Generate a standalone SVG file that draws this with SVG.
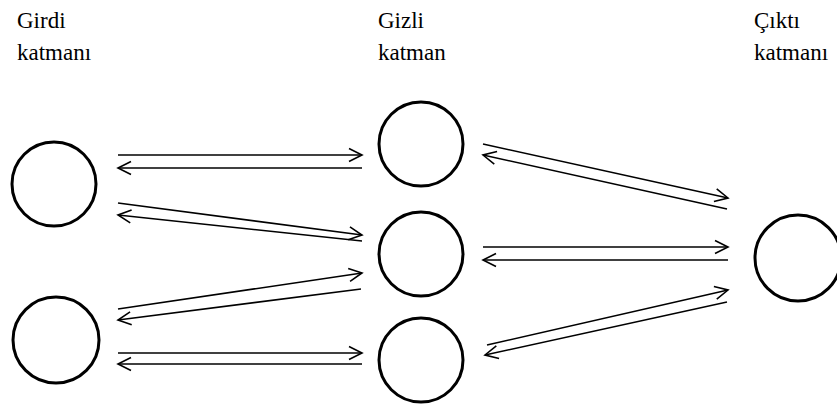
<svg xmlns="http://www.w3.org/2000/svg" width="837" height="406" viewBox="0 0 837 406">
<style>
.node{fill:#fff;stroke:#000;stroke-width:3}
.c{stroke:#000;stroke-width:1.6;fill:none;marker-end:url(#ah)}
</style>
<defs>
<marker id="ah" markerUnits="userSpaceOnUse" markerWidth="16" markerHeight="16" viewBox="-14 -8 16 16" refX="0" refY="0" orient="auto">
<path d="M-13,-6.5 L0,0 L-13,6.5" fill="none" stroke="#000" stroke-width="1.6"/>
</marker>
</defs>
<rect width="837" height="406" fill="#fff"/>
<g id="labels" font-family="'Liberation Serif', 'Times New Roman', 'DejaVu Serif', serif" font-size="23" fill="#000">
<text x="17" y="28">Girdi</text>
<text x="17" y="60">katmanı</text>
<text x="378" y="28">Gizli</text>
<text x="378" y="60">katman</text>
<text x="754" y="28">Çıktı</text>
<text x="754" y="60">katmanı</text>
</g>
<g id="in1"><circle class="node" cx="54" cy="184" r="42"/></g>
<g id="in2"><circle class="node" cx="56" cy="340" r="43"/></g>
<g id="h1"><circle class="node" cx="421" cy="144" r="42"/></g>
<g id="h2"><circle class="node" cx="421" cy="254" r="42"/></g>
<g id="h3"><circle class="node" cx="421" cy="360" r="42"/></g>
<g id="out"><circle class="node" cx="798" cy="258" r="43"/></g>
<g id="connectors">
<line class="c" x1="118" y1="155" x2="362" y2="155"/>
<line class="c" x1="362" y1="168" x2="118" y2="168"/>
<line class="c" x1="118" y1="203" x2="362" y2="235"/>
<line class="c" x1="362" y1="241" x2="118" y2="215"/>
<line class="c" x1="118" y1="309" x2="362" y2="273"/>
<line class="c" x1="361" y1="289" x2="118" y2="320"/>
<line class="c" x1="118" y1="353" x2="362" y2="353"/>
<line class="c" x1="362" y1="364" x2="118" y2="364"/>
<line class="c" x1="483" y1="144" x2="728" y2="198"/>
<line class="c" x1="727" y1="209" x2="483" y2="155"/>
<line class="c" x1="483" y1="247" x2="728" y2="247"/>
<line class="c" x1="728" y1="260" x2="483" y2="260"/>
<line class="c" x1="487" y1="345" x2="728" y2="290"/>
<line class="c" x1="727" y1="302" x2="485" y2="355"/>
</g>
</svg>
